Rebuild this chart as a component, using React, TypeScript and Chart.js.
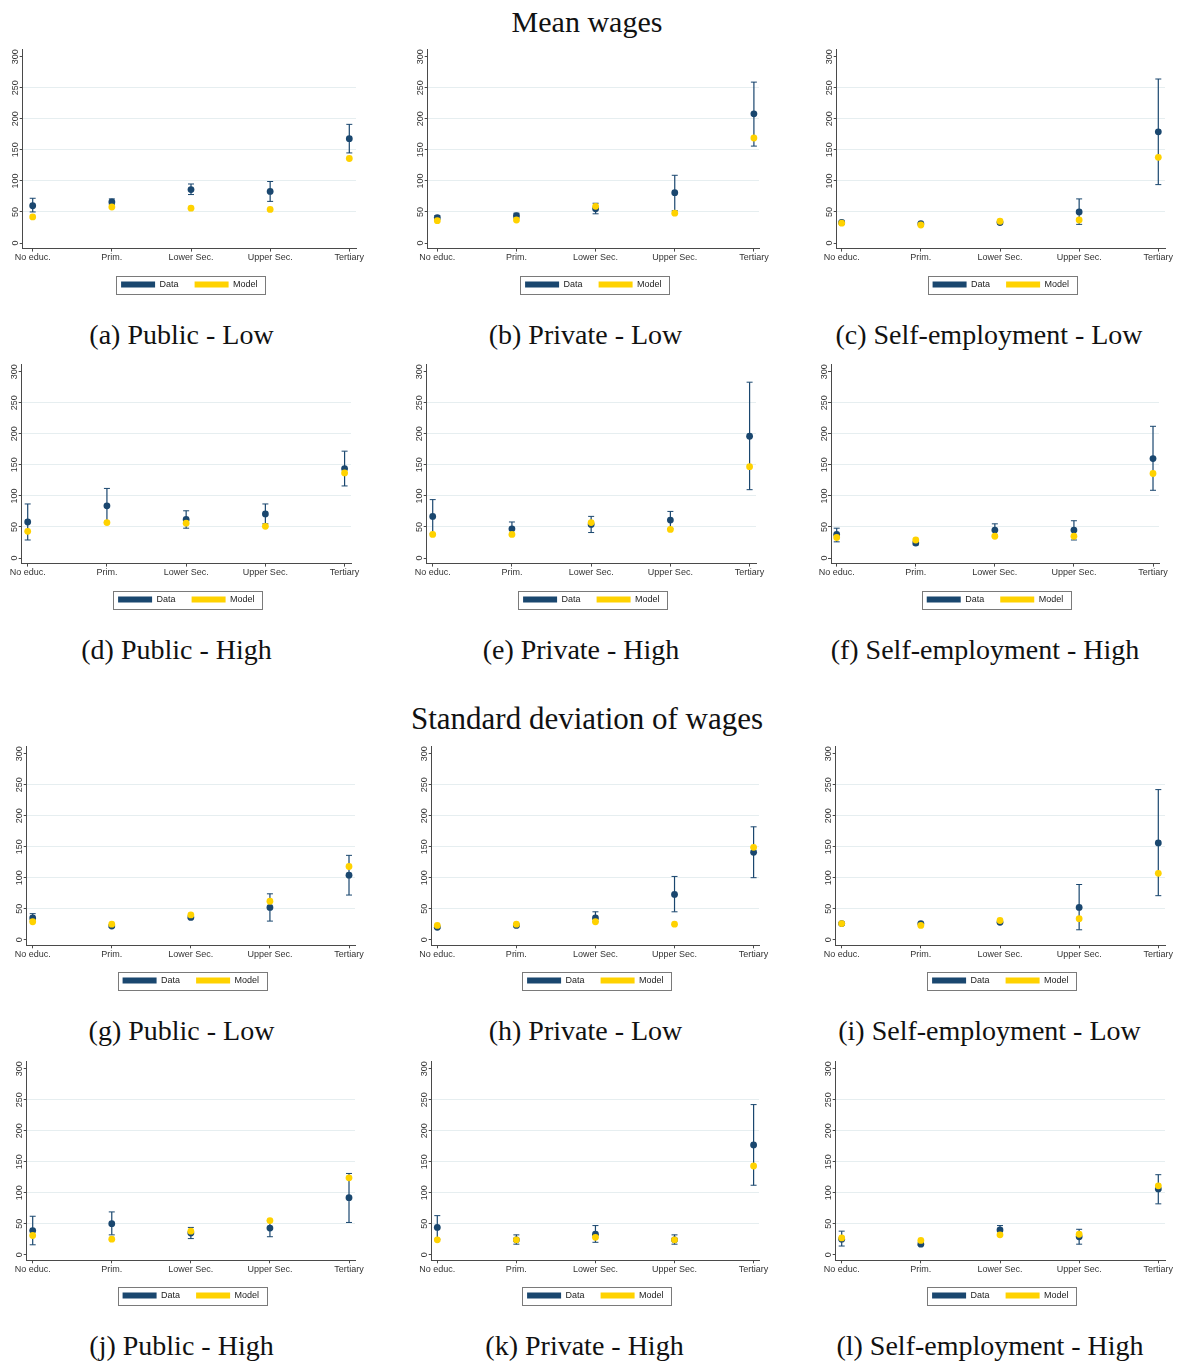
import { useEffect, useRef } from 'react';
import { Chart, registerables } from 'chart.js';

Chart.register(...registerables);
Chart.defaults.font.family = '"Liberation Sans", Arial, sans-serif';

const educLevels = ['No educ.', 'Prim.', 'Lower Sec.', 'Upper Sec.', 'Tertiary'];
const yTickValues = [0, 50, 100, 150, 200, 250, 300];
const gridValues = [50, 100, 150, 200, 250];
const seriesNames = ['Data', 'Model'];

// Mean wages
const meanPublicLowData = [60, 66, 86, 83, 168];
const meanPublicLowLo = [50, 62, 78, 67, 145];
const meanPublicLowHi = [72, 71, 95, 99, 191];
const meanPublicLowModel = [42, 58, 56, 54, 136];

const meanPrivateLowData = [41, 44, 55, 81, 208];
const meanPrivateLowLo = [38, 40, 47, 52, 156];
const meanPrivateLowHi = [44, 48, 64, 109, 259];
const meanPrivateLowModel = [36, 37, 59, 48, 169];

const meanSelfLowData = [33, 31, 33, 50, 179];
const meanSelfLowLo = [31, 29, 31, 30, 94];
const meanSelfLowHi = [35, 33, 35, 71, 264];
const meanSelfLowModel = [32, 29, 35, 37, 138];

const meanPublicHighData = [58, 84, 62, 71, 144];
const meanPublicHighLo = [29, 57, 48, 55, 116];
const meanPublicHighHi = [87, 112, 76, 87, 172];
const meanPublicHighModel = [43, 57, 56, 51, 137];

const meanPrivateHighData = [67, 47, 54, 61, 196];
const meanPrivateHighLo = [39, 37, 41, 47, 110];
const meanPrivateHighHi = [94, 58, 67, 75, 283];
const meanPrivateHighModel = [38, 38, 57, 46, 147];

const meanSelfHighData = [38, 24, 45, 45, 160];
const meanSelfHighLo = [26, 21, 37, 29, 109];
const meanSelfHighHi = [48, 27, 55, 60, 212];
const meanSelfHighModel = [33, 29, 35, 35, 136];

// Standard deviation of wages
const sdPublicLowData = [35, 22, 36, 52, 104];
const sdPublicLowLo = [30, 20, 34, 30, 72];
const sdPublicLowHi = [42, 24, 39, 74, 136];
const sdPublicLowModel = [29, 25, 40, 62, 118];

const sdPrivateLowData = [20, 23, 35, 73, 141];
const sdPrivateLowLo = [18, 21, 29, 45, 100];
const sdPrivateLowHi = [22, 25, 45, 102, 182];
const sdPrivateLowModel = [23, 25, 29, 25, 149];

const sdSelfLowData = [26, 26, 28, 52, 156];
const sdSelfLowLo = [24, 24, 26, 16, 71];
const sdSelfLowHi = [28, 28, 30, 89, 242];
const sdSelfLowModel = [26, 23, 31, 34, 107];

const sdPublicHighData = [39, 50, 35, 43, 92];
const sdPublicHighLo = [16, 32, 26, 29, 52];
const sdPublicHighHi = [62, 69, 44, 55, 131];
const sdPublicHighModel = [31, 25, 38, 55, 124];

const sdPrivateHighData = [44, 24, 33, 24, 177];
const sdPrivateHighLo = [25, 17, 20, 17, 112];
const sdPrivateHighHi = [63, 32, 47, 32, 242];
const sdPrivateHighModel = [24, 24, 28, 24, 143];

const sdSelfHighData = [25, 17, 40, 29, 106];
const sdSelfHighLo = [14, 15, 33, 17, 82];
const sdSelfHighHi = [38, 20, 47, 41, 129];
const sdSelfHighModel = [27, 23, 32, 33, 111];

const NAVY = '#1a476f';
const GOLD = '#ffd200';
const AXIS = '#4a4a4a';
const GRID = '#e6eef0';
const STEP = 79.15; // px between two categories
const Y_MIN = -9;
const Y_MAX = 312.3;
const Y_AXIS_W = 24;
const PAD_TOP = 3;
const PAD_RIGHT = 16;

interface Geo {
    axis: number;
    x0: number;
    right: number;
    top: number;
    bottom: number;
    legend: number;
}

interface PanelProps {
    data: number[];
    lo: number[];
    hi: number[];
    model: number[];
    geo: Geo;
}

const rowsGeo = [
    { top: 47.3, bottom: 248.3, legend: 284.2 },
    { top: 362.3, bottom: 563.3, legend: 599.2 },
    { top: 743.6, bottom: 945.3, legend: 980.5 },
    { top: 1058.6, bottom: 1260.3, legend: 1295.5 },
];
const colsTop = [
    { axis: 22.7, x0: 32.7, right: 356 },
    { axis: 427.7, x0: 437.3, right: 759 },
    { axis: 836.7, x0: 841.7, right: 1165 },
];
const colsMid = [
    { axis: 21.7, x0: 27.7, right: 350.7 },
    { axis: 426.7, x0: 432.7, right: 755.7 },
    { axis: 831, x0: 836.7, right: 1159.3 },
];
const colsLow = [
    { axis: 26.7, x0: 32.7, right: 355.3 },
    { axis: 431.7, x0: 437.3, right: 759.3 },
    { axis: 835.7, x0: 841.7, right: 1165 },
];

const legendFrame = {
    id: 'legendFrame',
    afterDraw(chart: any) {
        const boxes = chart.legend?.legendHitBoxes;
        if (!boxes || !boxes.length) return;
        const ctx = chart.ctx;
        const l = Math.min(...boxes.map((b: any) => b.left)) - 5;
        const r = Math.max(...boxes.map((b: any) => b.left + b.width)) + 7;
        const cy = boxes[0].top + boxes[0].height / 2;
        ctx.save();
        ctx.strokeStyle = '#7a7a7a';
        ctx.lineWidth = 1;
        ctx.strokeRect(Math.round(l) + 0.5, Math.round(cy - 9) + 0.5, Math.round(r - l), 18);
        ctx.restore();
    },
};

const ErrorPanel: React.FC<PanelProps> = ({ data, lo, hi, model, geo }) => {
    const canvasRef = useRef<HTMLCanvasElement | null>(null);
    const chartInstanceRef = useRef<Chart | null>(null);

    const left = Math.round(geo.axis - Y_AXIS_W);
    const top = Math.round(geo.top - PAD_TOP);
    const width = Math.round(geo.right + PAD_RIGHT) - left;
    const height = Math.round(geo.legend + 14.5) - top;

    useEffect(() => {
        if (!canvasRef.current) return;
        const ctx = canvasRef.current.getContext('2d');
        if (!ctx) return;
        if (chartInstanceRef.current) chartInstanceRef.current.destroy();

        const yAxisW = geo.axis - left;
        const xMin = -(geo.x0 - geo.axis) / STEP;
        const xMax = xMin + (geo.right - geo.axis) / STEP;
        const xAxisH = geo.legend - 20.5 - geo.bottom;

        chartInstanceRef.current = new Chart(ctx, {
            type: 'scatter',
            data: {
                datasets: [
                    {
                        label: 'Data',
                        type: 'scatter',
                        data: data.map((v, i) => ({ x: i, y: v })),
                        pointRadius: 3.4,
                        pointBackgroundColor: NAVY,
                        pointBorderWidth: 0,
                        order: 1,
                    },
                    {
                        label: 'Model',
                        type: 'scatter',
                        data: model.map((v, i) => ({ x: i, y: v })),
                        pointRadius: 3.4,
                        pointBackgroundColor: GOLD,
                        pointBorderWidth: 0,
                        order: 0,
                    },
                    {
                        label: 'ci',
                        type: 'bar',
                        data: lo.map((v, i) => ({ x: i, y: [v, hi[i]] })),
                        backgroundColor: NAVY,
                        borderWidth: 0,
                        barThickness: 1.2,
                        maxBarThickness: 1.2,
                        inflateAmount: 0,
                        order: 2,
                    },
                    {
                        label: 'caps',
                        type: 'scatter',
                        data: lo.map((v, i) => ({ x: i, y: v })).concat(hi.map((v, i) => ({ x: i, y: v }))),
                        pointStyle: 'line',
                        pointRadius: 3,
                        pointBorderColor: NAVY,
                        pointBorderWidth: 1,
                        order: 2,
                    },
                ] as any,
            },
            options: {
                animation: false,
                responsive: true,
                maintainAspectRatio: false,
                events: [],
                layout: { padding: { top: PAD_TOP, right: PAD_RIGHT, bottom: 0, left: 0 } },
                plugins: {
                    tooltip: { enabled: false },
                    legend: {
                        position: 'bottom',
                        fullSize: false,
                        labels: {
                            boxWidth: 34,
                            boxHeight: 6,
                            padding: 16,
                            color: '#222',
                            font: { size: 9 },
                            generateLabels: () =>
                                seriesNames.map((t, i) => ({
                                    text: t,
                                    fillStyle: i === 0 ? NAVY : GOLD,
                                    strokeStyle: 'rgba(0,0,0,0)',
                                    lineWidth: 0,
                                    hidden: false,
                                    datasetIndex: i,
                                    fontColor: '#222',
                                })),
                        },
                    },
                },
                scales: {
                    x: {
                        type: 'linear',
                        offset: false,
                        min: xMin,
                        max: xMax,
                        afterBuildTicks: (s: any) => {
                            s.ticks = educLevels.map((_, i) => ({ value: i }));
                        },
                        afterFit: (s: any) => {
                            s.height = xAxisH;
                        },
                        ticks: {
                            autoSkip: false,
                            maxRotation: 0,
                            minRotation: 0,
                            padding: 1,
                            color: '#333',
                            font: { size: 9 },
                            callback: (v: any) => educLevels[Math.round(Number(v))] ?? '',
                        },
                        grid: { offset: false, drawOnChartArea: false, tickLength: 3, tickColor: AXIS },
                        border: { display: true, color: AXIS, width: 1 },
                    },
                    y: {
                        type: 'linear',
                        min: Y_MIN,
                        max: Y_MAX,
                        afterBuildTicks: (s: any) => {
                            s.ticks = yTickValues.map((v) => ({ value: v }));
                        },
                        afterFit: (s: any) => {
                            s.width = yAxisW;
                        },
                        ticks: {
                            minRotation: 90,
                            maxRotation: 90,
                            crossAlign: 'center',
                            padding: -3.8,
                            color: '#333',
                            font: { size: 9 },
                        },
                        grid: {
                            color: (c: any) => (gridValues.includes(c.tick?.value) ? GRID : 'rgba(0,0,0,0)'),
                            tickLength: 3,
                            tickColor: AXIS,
                        },
                        border: { display: true, color: AXIS, width: 1 },
                    },
                },
            },
            plugins: [legendFrame],
        });

        return () => {
            if (chartInstanceRef.current) {
                chartInstanceRef.current.destroy();
                chartInstanceRef.current = null;
            }
        };
    }, [data, lo, hi, model, geo]);

    return (
        <div style={{ position: 'absolute', left, top, width, height }}>
            <canvas ref={canvasRef}></canvas>
        </div>
    );
};

const panels = [
    { data: meanPublicLowData, lo: meanPublicLowLo, hi: meanPublicLowHi, model: meanPublicLowModel, geo: { ...colsTop[0], ...rowsGeo[0] }, caption: '(a) Public - Low', cx: 181.5, cy: 335 },
    { data: meanPrivateLowData, lo: meanPrivateLowLo, hi: meanPrivateLowHi, model: meanPrivateLowModel, geo: { ...colsTop[1], ...rowsGeo[0] }, caption: '(b) Private - Low', cx: 585.5, cy: 335 },
    { data: meanSelfLowData, lo: meanSelfLowLo, hi: meanSelfLowHi, model: meanSelfLowModel, geo: { ...colsTop[2], ...rowsGeo[0] }, caption: '(c) Self-employment - Low', cx: 989, cy: 335 },
    { data: meanPublicHighData, lo: meanPublicHighLo, hi: meanPublicHighHi, model: meanPublicHighModel, geo: { ...colsMid[0], ...rowsGeo[1] }, caption: '(d) Public - High', cx: 176.5, cy: 650 },
    { data: meanPrivateHighData, lo: meanPrivateHighLo, hi: meanPrivateHighHi, model: meanPrivateHighModel, geo: { ...colsMid[1], ...rowsGeo[1] }, caption: '(e) Private - High', cx: 581, cy: 650 },
    { data: meanSelfHighData, lo: meanSelfHighLo, hi: meanSelfHighHi, model: meanSelfHighModel, geo: { ...colsMid[2], ...rowsGeo[1] }, caption: '(f) Self-employment - High', cx: 985, cy: 650 },
    { data: sdPublicLowData, lo: sdPublicLowLo, hi: sdPublicLowHi, model: sdPublicLowModel, geo: { ...colsLow[0], ...rowsGeo[2] }, caption: '(g) Public - Low', cx: 181.5, cy: 1031 },
    { data: sdPrivateLowData, lo: sdPrivateLowLo, hi: sdPrivateLowHi, model: sdPrivateLowModel, geo: { ...colsLow[1], ...rowsGeo[2] }, caption: '(h) Private - Low', cx: 585.5, cy: 1031 },
    { data: sdSelfLowData, lo: sdSelfLowLo, hi: sdSelfLowHi, model: sdSelfLowModel, geo: { ...colsLow[2], ...rowsGeo[2] }, caption: '(i) Self-employment - Low', cx: 989.5, cy: 1031 },
    { data: sdPublicHighData, lo: sdPublicHighLo, hi: sdPublicHighHi, model: sdPublicHighModel, geo: { ...colsLow[0], ...rowsGeo[3] }, caption: '(j) Public - High', cx: 181.5, cy: 1346 },
    { data: sdPrivateHighData, lo: sdPrivateHighLo, hi: sdPrivateHighHi, model: sdPrivateHighModel, geo: { ...colsLow[1], ...rowsGeo[3] }, caption: '(k) Private - High', cx: 584.5, cy: 1346 },
    { data: sdSelfHighData, lo: sdSelfHighLo, hi: sdSelfHighHi, model: sdSelfHighModel, geo: { ...colsLow[2], ...rowsGeo[3] }, caption: '(l) Self-employment - High', cx: 990, cy: 1346 },
];

const serif = '"Liberation Serif", "Times New Roman", serif';

const Label: React.FC<{ text: string; cx: number; cy: number; size: number }> = ({ text, cx, cy, size }) => (
    <div
        style={{
            position: 'absolute',
            left: cx,
            top: cy - 20,
            height: 40,
            lineHeight: '40px',
            transform: 'translateX(-50%)',
            whiteSpace: 'pre',
            fontFamily: serif,
            fontSize: size,
            color: '#111',
        }}
    >
        {text}
    </div>
);

export default function App() {
    return (
        <div style={{ position: 'absolute', left: 0, top: 0, width: 1181, height: 1363, background: '#fff' }}>
            <Label text="Mean wages" cx={587} cy={22} size={30} />
            <Label text="Standard deviation of wages" cx={587} cy={719} size={31} />
            {panels.map((p, i) => (
                <ErrorPanel key={i} data={p.data} lo={p.lo} hi={p.hi} model={p.model} geo={p.geo} />
            ))}
            {panels.map((p, i) => (
                <Label key={'c' + i} text={p.caption} cx={p.cx} cy={p.cy} size={28} />
            ))}
        </div>
    );
}
